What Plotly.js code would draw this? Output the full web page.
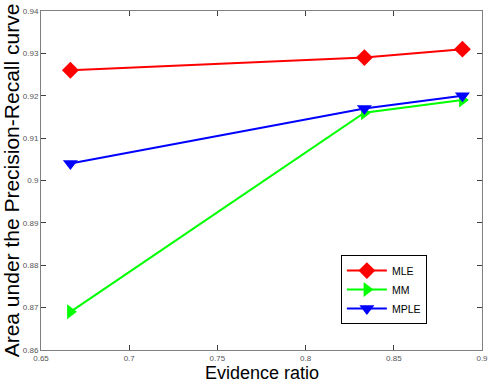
<!DOCTYPE html>
<html>
<head>
<meta charset="utf-8">
<script src="https://cdn.plot.ly/plotly-3.0.1.min.js"></script>
<style>html,body{margin:0;padding:0;background:#fff;}#chart{width:490px;height:382px;}</style>
</head>
<body>
<div id="chart"></div>
<script>
const evidenceRatio = [2/3, 5/6, 8/9];
const mle = [0.926, 0.929, 0.931];
const mm = [0.869, 0.916, 0.919];
const mple = [0.904, 0.917, 0.920];
const xTicks = [0.65, 0.7, 0.75, 0.8, 0.85, 0.9];
const yTicks = [0.86, 0.87, 0.88, 0.89, 0.9, 0.91, 0.92, 0.93, 0.94];
const xTitle = 'Evidence ratio';
const yTitle = 'Area under the Precision-Recall curve';

const traces = [
  {x: evidenceRatio, y: mle, name: 'MLE', mode: 'lines+markers',
   line: {color: '#ff0000', width: 2}, marker: {symbol: 'diamond', size: 13, color: '#ff0000'}},
  {x: evidenceRatio, y: mm, name: 'MM', mode: 'lines+markers',
   line: {color: '#00ff00', width: 2}, marker: {symbol: 'triangle-right', size: 13, color: '#00ff00'}},
  {x: evidenceRatio, y: mple, name: 'MPLE', mode: 'lines+markers',
   line: {color: '#0000ff', width: 2}, marker: {symbol: 'triangle-down', size: 13, color: '#0000ff'}}
];

const axisCommon = {
  showgrid: false, zeroline: false, showline: true, linecolor: '#808080', linewidth: 1,
  mirror: 'ticks', ticks: 'inside', ticklen: 5, tickcolor: '#404040',
  tickfont: {size: 8, color: '#555', family: 'Liberation Sans, Arial, sans-serif'}
};

const layout = {
  width: 490, height: 382,
  margin: {l: 41, r: 8, t: 11, b: 32},
  paper_bgcolor: '#fff', plot_bgcolor: '#fff',
  font: {family: 'Liberation Sans, Arial, sans-serif'},
  showlegend: true,
  legend: {x: 0.68, y: 0.28, xanchor: 'left', yanchor: 'top', bgcolor: '#fff',
           bordercolor: '#000', borderwidth: 1, font: {size: 10.5, color: '#000'},
           tracegroupgap: 0, itemwidth: 40},
  xaxis: Object.assign({}, axisCommon, {
    range: [0.65, 0.9], tickvals: xTicks, ticktext: xTicks.map(String)
  }),
  yaxis: Object.assign({}, axisCommon, {
    range: [0.86, 0.94], tickvals: yTicks, ticktext: yTicks.map(String),
    title: {text: yTitle, font: {size: 21, color: '#000'}, standoff: 4}
  }),
  annotations: [
    {text: xTitle, xref: 'paper', yref: 'paper', x: 0.5, y: 0, xanchor: 'center', yanchor: 'top',
     yshift: -11.5, borderpad: 0, showarrow: false, font: {size: 18, color: '#000'}}
  ]
};

Plotly.newPlot('chart', traces, layout, {displayModeBar: false, staticPlot: true});
</script>
</body>
</html>
